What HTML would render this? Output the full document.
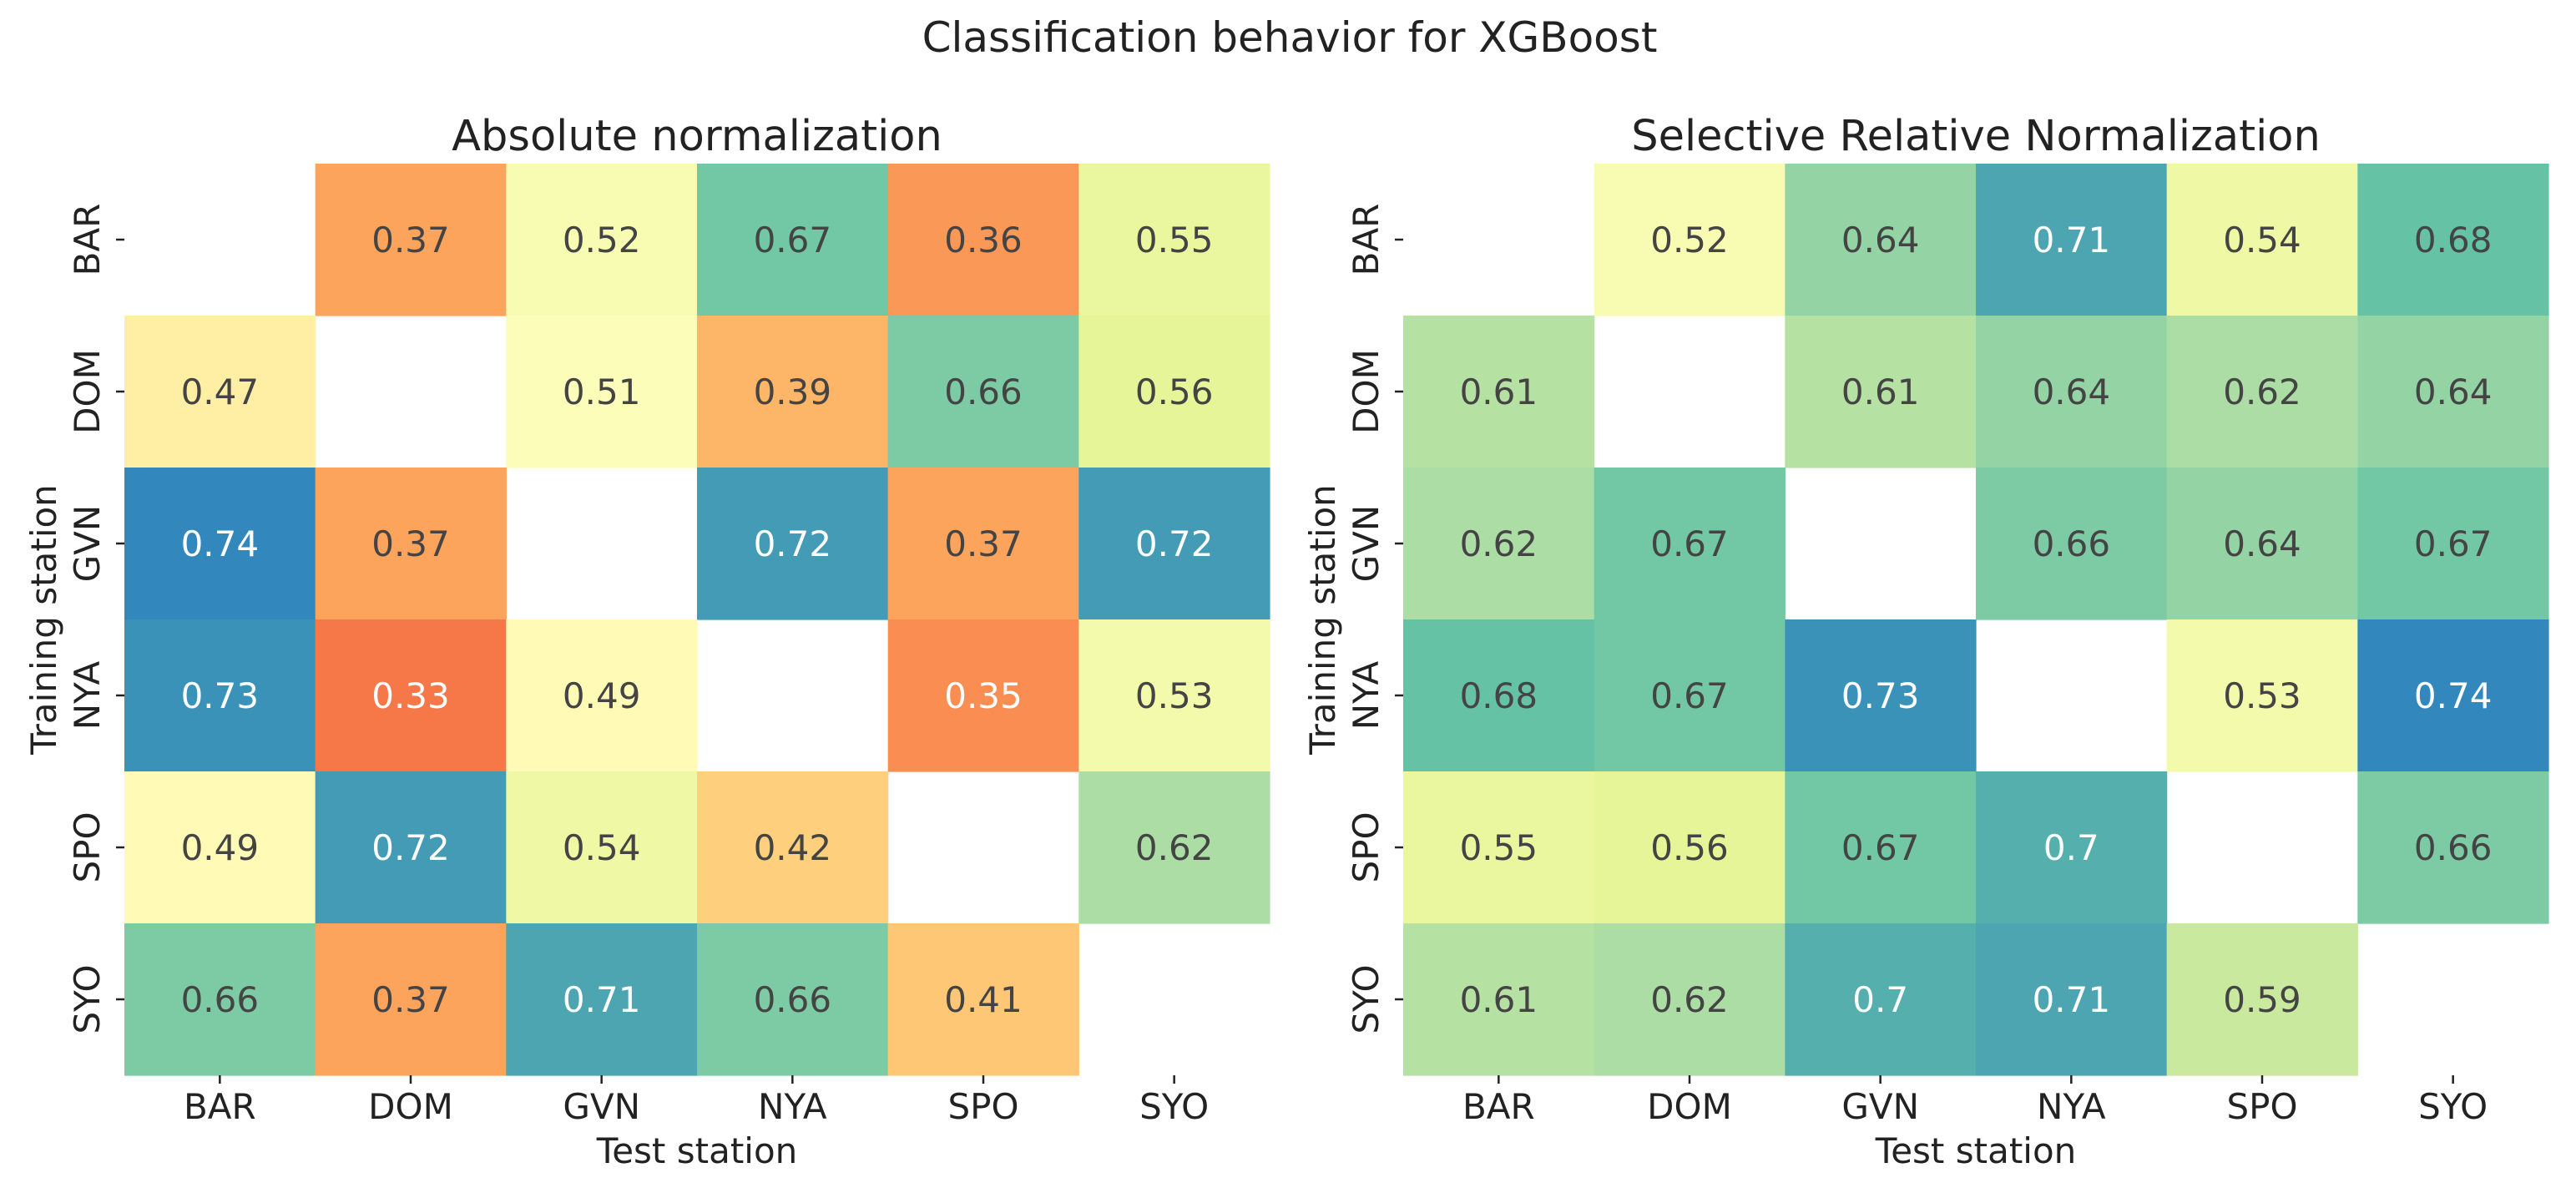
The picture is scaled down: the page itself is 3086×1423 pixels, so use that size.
<!DOCTYPE html>
<html><head><meta charset="utf-8"><style>
html,body{margin:0;padding:0;background:#fff;}
svg{display:block;font-family:"DejaVu Sans","Liberation Sans",sans-serif;}
</style></head><body>
<svg id="fig" width="3086" height="1423" viewBox="0 0 3086 1423" xmlns="http://www.w3.org/2000/svg">
<text x="1545" y="62" font-size="50" text-anchor="middle" fill="#222">Classification behavior for XGBoost</text>
</svg>
<script>
const stations = ["BAR","DOM","GVN","NYA","SPO","SYO"];
const absValues = [
  [null,0.37,0.52,0.67,0.36,0.55],
  [0.47,null,0.51,0.39,0.66,0.56],
  [0.74,0.37,null,0.72,0.37,0.72],
  [0.73,0.33,0.49,null,0.35,0.53],
  [0.49,0.72,0.54,0.42,null,0.62],
  [0.66,0.37,0.71,0.66,0.41,null]
];
const srnValues = [
  [null,0.52,0.64,0.71,0.54,0.68],
  [0.61,null,0.61,0.64,0.62,0.64],
  [0.62,0.67,null,0.66,0.64,0.67],
  [0.68,0.67,0.73,null,0.53,0.74],
  [0.55,0.56,0.67,0.7,null,0.66],
  [0.61,0.62,0.7,0.71,0.59,null]
];
const panelTitles = ["Absolute normalization","Selective Relative Normalization"];
const vmin = 0.2, vmax = 0.8;

const spectral = ["#9e0142","#d53e4f","#f46d43","#fdae61","#fee08b","#ffffbf","#e6f598","#abdda4","#66c2a5","#3288bd","#5e4fa2"];
function hex(h){return [1,3,5].map(i=>parseInt(h.substr(i,2),16));}
function cmap(v){
  let t=Math.max(0,Math.min(1,(v-vmin)/(vmax-vmin)))*10;
  let i=Math.min(9,Math.floor(t)), f=t-i;
  const a=hex(spectral[i]), b=hex(spectral[i+1]);
  return a.map((c,k)=>Math.round(c+(b[k]-c)*f));
}
function lum(rgb){
  const c=rgb.map(x=>{x/=255;return x<=0.03928?x/12.92:Math.pow((x+0.055)/1.055,2.4);});
  return 0.2126*c[0]+0.7152*c[1]+0.0722*c[2];
}
const NS="http://www.w3.org/2000/svg";
const svg=document.getElementById('fig');
function el(tag,attrs,txt){const e=document.createElementNS(NS,tag);for(const k in attrs)e.setAttribute(k,attrs[k]);if(txt!==undefined)e.textContent=txt;svg.appendChild(e);return e;}

const panels=[{x0:149,data:absValues,title:panelTitles[0],key:'abs'},{x0:1681,data:srnValues,title:panelTitles[1],key:'srn'}];
const y0=196, W=1372, H=1092, n=stations.length;
panels.forEach(p=>{
  const cw=W/n, ch=H/n;
  const xs=j=>p.x0+j*cw, ys=i=>y0+i*ch;
  const t=el('text',{x:p.x0+W/2,y:180,'font-size':51,'text-anchor':'middle',fill:'#222'},p.title);
  
  
  p.data.forEach((row,i)=>row.forEach((v,j)=>{
    if(v===null) return;
    const rgb=cmap(v);
    const r=el('rect',{x:xs(j),y:ys(i),width:cw+0.6,height:ch+0.6,fill:`rgb(${rgb.join(',')})`});
    
    
    const tc=lum(rgb)>0.408?'#444':'#fff';
    const tx=el('text',{x:xs(j)+cw/2,y:ys(i)+ch/2+15,'font-size':42,'text-anchor':'middle',fill:tc},String(v));
    
    
  }));
  stations.forEach((s,k)=>{
    const cx=xs(k)+cw/2;
    el('line',{x1:cx,y1:y0+H,x2:cx,y2:y0+H+10,stroke:'#222','stroke-width':2.5});
    const xl=el('text',{x:cx,y:1340,'font-size':42,'text-anchor':'middle',fill:'#222'},s);
    
    
    const cy=ys(k)+ch/2;
    el('line',{x1:p.x0,y1:cy,x2:p.x0-10,y2:cy,stroke:'#222','stroke-width':2.5});
    const yl=el('text',{x:p.x0-30,y:cy,'font-size':42,'text-anchor':'middle',fill:'#222',transform:`rotate(-90 ${p.x0-30} ${cy})`},s);
    
    
  });
  const xt=el('text',{x:p.x0+W/2,y:1393,'font-size':42,'text-anchor':'middle',fill:'#222'},'Test station');
  
  
  const lx=p.x0-82, ly=y0+H/2;
  const yt=el('text',{x:lx,y:ly,'font-size':42,'text-anchor':'middle',fill:'#222',transform:`rotate(-90 ${lx} ${ly})`},'Training station');
  
  
});
</script>
</body></html>
